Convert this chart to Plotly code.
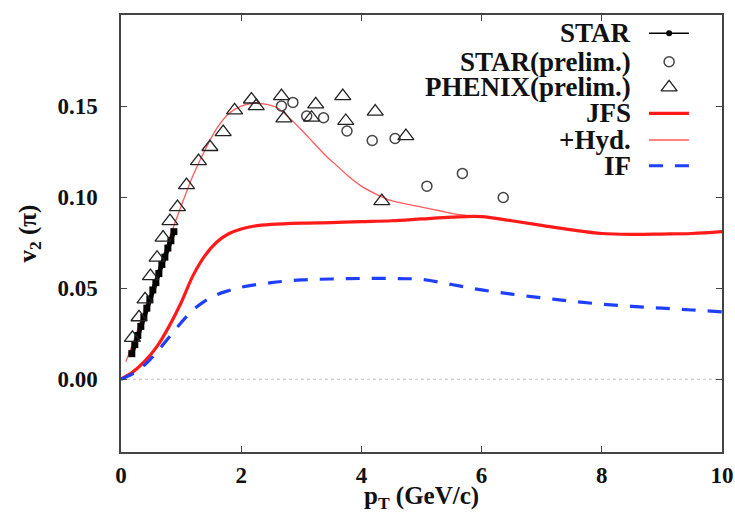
import plotly.graph_objects as go

# ---------------- data ----------------
star_pt = [0.18, 0.23, 0.28, 0.33, 0.38, 0.43, 0.48, 0.53, 0.58, 0.63, 0.68, 0.73, 0.78, 0.83, 0.88]
star_v2 = [0.014, 0.019, 0.024, 0.029, 0.034, 0.039, 0.044, 0.049, 0.053, 0.058, 0.063, 0.067, 0.072, 0.076, 0.081]

starp_pt = [2.67, 2.86, 3.09, 3.37, 3.76, 4.18, 4.56, 5.09, 5.68, 6.36]
starp_v2 = [0.150, 0.152, 0.1445, 0.1436, 0.1363, 0.1311, 0.1322, 0.106, 0.113, 0.0998]

phenix_pt = [0.19, 0.30, 0.40, 0.49, 0.60, 0.70, 0.815, 0.94, 1.09, 1.29, 1.48, 1.70, 1.89, 2.17, 2.25,
             2.67, 2.71, 3.17, 3.24, 3.69, 3.74, 4.23, 4.34, 4.74]
phenix_v2 = [0.0227, 0.034, 0.0438, 0.0566, 0.0667, 0.0777, 0.0868, 0.0945, 0.1066, 0.1198, 0.1275, 0.1357,
             0.1476, 0.1536, 0.150, 0.1555, 0.1432, 0.1436, 0.1509, 0.1555, 0.1418, 0.1469, 0.0978, 0.1335]

jfs_pt = [0.0, 0.2, 0.4, 0.6, 0.8, 1.0, 1.2, 1.4, 1.6, 1.8, 2.0, 2.2, 2.5, 3.0, 3.5, 4.0, 4.5,
          5.0, 5.5, 6.0, 6.5, 7.0, 7.5, 8.0, 8.5, 9.0, 9.5, 10.0]
jfs_v2 = [0.0, 0.004, 0.010, 0.018, 0.029, 0.042, 0.057, 0.068, 0.0755, 0.080, 0.0825, 0.084, 0.085,
          0.0857, 0.086, 0.0865, 0.087, 0.088, 0.089, 0.0893, 0.087, 0.0845, 0.082, 0.080, 0.0795,
          0.0797, 0.080, 0.081]

hyd_pt = [0.08, 0.2, 0.4, 0.6, 0.8, 1.0, 1.2, 1.4, 1.6, 1.8, 2.0, 2.2, 2.4, 2.6, 2.8, 3.0, 3.2, 3.4,
          3.6, 3.8, 4.0, 4.25, 4.5, 5.0, 5.3, 5.6, 6.0, 6.5, 7.0, 7.5, 8.0, 8.5, 9.0, 9.5, 10.0]
hyd_v2 = [0.0095, 0.020, 0.039, 0.058, 0.077, 0.095, 0.112, 0.126, 0.138, 0.146, 0.150, 0.1515, 0.151,
          0.149, 0.1435, 0.137, 0.130, 0.123, 0.117, 0.111, 0.106, 0.1015, 0.098, 0.0945, 0.0925,
          0.0905, 0.0893, 0.087, 0.0845, 0.082, 0.080, 0.0795, 0.0797, 0.080, 0.081]

if_pt = [0.0, 0.2, 0.4, 0.6, 0.8, 1.0, 1.2, 1.4, 1.6, 1.8, 2.0, 2.5, 3.0, 3.5, 4.0, 4.5, 5.0,
         5.5, 6.0, 6.5, 7.0, 7.5, 8.0, 8.5, 9.0, 9.5, 10.0]
if_v2 = [0.0, 0.003, 0.008, 0.015, 0.023, 0.031, 0.038, 0.043, 0.0465, 0.0487, 0.0505, 0.053, 0.0545,
         0.055, 0.0553, 0.0553, 0.0548, 0.052, 0.049, 0.0467, 0.0447, 0.0428, 0.0412, 0.040, 0.039,
         0.038, 0.037]

x_ticks = [0, 2, 4, 6, 8, 10]
y_ticks = [0.00, 0.05, 0.10, 0.15]

legend_labels = ["STAR", "STAR(prelim.)", "PHENIX(prelim.)", "JFS", "+Hyd.", "IF"]
x_title = "p<sub>T</sub> (GeV/c)"
y_title = "v<sub>2</sub> (π)"

# ---------------- styles ----------------
FONT = "Liberation Serif"
RED = "#ff1a1a"
THIN_RED = "#ff5a5a"
BLUE = "#1f3fff"
FRAME = "#444444"
TXT = "#111111"

fig = go.Figure()

# curves
fig.add_trace(go.Scatter(x=hyd_pt, y=hyd_v2, mode="lines",
                         line=dict(color=THIN_RED, width=1.3, shape="spline"), showlegend=False))
fig.add_trace(go.Scatter(x=jfs_pt, y=jfs_v2, mode="lines",
                         line=dict(color=RED, width=3.2, shape="spline"), showlegend=False))
fig.add_trace(go.Scatter(x=if_pt, y=if_v2, mode="lines",
                         line=dict(color=BLUE, width=3.2, dash="14px,12px", shape="spline"),
                         showlegend=False))

# data
fig.add_trace(go.Scatter(x=star_pt, y=star_v2, mode="lines+markers",
                         line=dict(color="black", width=4.5),
                         marker=dict(symbol="square", size=7, color="black"),
                         showlegend=False))
fig.add_trace(go.Scatter(x=starp_pt, y=starp_v2, mode="markers",
                         marker=dict(symbol="circle-open", size=10, color="#444444",
                                     line=dict(width=1.5)),
                         showlegend=False))
fig.add_trace(go.Scatter(x=phenix_pt, y=phenix_v2, mode="markers",
                         marker=dict(symbol="triangle-up-open", size=14, color="#222222",
                                     line=dict(width=1.3)),
                         showlegend=False))

# ---------------- manual legend (text left, sample right) ----------------
row_y = [0.958, 0.893, 0.8346, 0.775, 0.714, 0.655]
lx0, lx1, lxc = 0.8785, 0.945, 0.912
text_x = 0.852

for lab, yy in zip(legend_labels, row_y):
    fig.add_annotation(x=text_x, y=yy, xref="paper", yref="paper", text=lab,
                       showarrow=False, xanchor="right", yanchor="middle",
                       font=dict(family=FONT, size=27, color=TXT, weight="bold"))

fig.add_trace(go.Scatter(x=[lx0, lxc, lx1], y=[row_y[0]] * 3, xaxis="x2", yaxis="y2",
                         mode="lines", line=dict(color="black", width=1.5), showlegend=False))
fig.add_trace(go.Scatter(x=[lxc], y=[row_y[0]], xaxis="x2", yaxis="y2", mode="markers",
                         marker=dict(symbol="circle", size=6, color="black"), showlegend=False))
fig.add_trace(go.Scatter(x=[lxc], y=[row_y[1]], xaxis="x2", yaxis="y2", mode="markers",
                         marker=dict(symbol="circle-open", size=10, color="#444444",
                                     line=dict(width=1.5)), showlegend=False))
fig.add_trace(go.Scatter(x=[lxc], y=[row_y[2]], xaxis="x2", yaxis="y2", mode="markers",
                         marker=dict(symbol="triangle-up-open", size=14, color="#222222",
                                     line=dict(width=1.3)), showlegend=False))
fig.add_trace(go.Scatter(x=[lx0, lx1], y=[row_y[3]] * 2, xaxis="x2", yaxis="y2", mode="lines",
                         line=dict(color=RED, width=3.2), showlegend=False))
fig.add_trace(go.Scatter(x=[lx0, lx1], y=[row_y[4]] * 2, xaxis="x2", yaxis="y2", mode="lines",
                         line=dict(color=THIN_RED, width=1.3), showlegend=False))
fig.add_trace(go.Scatter(x=[lx0, lx1], y=[row_y[5]] * 2, xaxis="x2", yaxis="y2", mode="lines",
                         line=dict(color=BLUE, width=3.2, dash="14px,12px"), showlegend=False))

# zero reference line
fig.add_shape(type="line", xref="x", yref="y", x0=0, x1=10, y0=0, y1=0,
              line=dict(color="#bbbbbb", width=1, dash="dot"), layer="below")

# axis titles as annotations for exact placement
fig.add_annotation(x=0.5, y=-0.105, xref="paper", yref="paper", text=x_title,
                   showarrow=False, xanchor="center", yanchor="middle",
                   font=dict(family=FONT, size=25, color=TXT, weight="bold"))
fig.add_annotation(x=-0.153, y=0.5, xref="paper", yref="paper", text=y_title,
                   showarrow=False, xanchor="center", yanchor="middle", textangle=-90,
                   font=dict(family=FONT, size=25, color=TXT, weight="bold"))

tickfont = dict(family=FONT, size=23, color=TXT, weight="bold")

fig.update_layout(
    width=735, height=518,
    margin=dict(l=121, r=13, t=15, b=66),
    paper_bgcolor="white", plot_bgcolor="white",
    xaxis=dict(range=[0, 10], tickvals=x_ticks, ticktext=[str(v) for v in x_ticks],
               showline=True, linecolor=FRAME, linewidth=1.5, mirror="ticks",
               ticks="inside", ticklen=6, tickwidth=1.2, tickcolor=FRAME,
               showgrid=False, zeroline=False, tickfont=tickfont,
               ticklabelstandoff=2, automargin=False),
    yaxis=dict(range=[-0.04, 0.2], tickvals=y_ticks, ticktext=[f"{v:.2f}" for v in y_ticks],
               showline=True, linecolor=FRAME, linewidth=1.5, mirror="ticks",
               ticks="inside", ticklen=6, tickwidth=1.2, tickcolor=FRAME,
               showgrid=False, zeroline=False, tickfont=tickfont,
               ticklabelstandoff=17, automargin=False),
    xaxis2=dict(range=[0, 1], overlaying="x", visible=False, fixedrange=True),
    yaxis2=dict(range=[0, 1], overlaying="y", visible=False, fixedrange=True),
)

fig.write_html("out.html", config={"displayModeBar": False},
               post_script="document.body.style.margin='0';document.body.style.overflow='hidden';")
